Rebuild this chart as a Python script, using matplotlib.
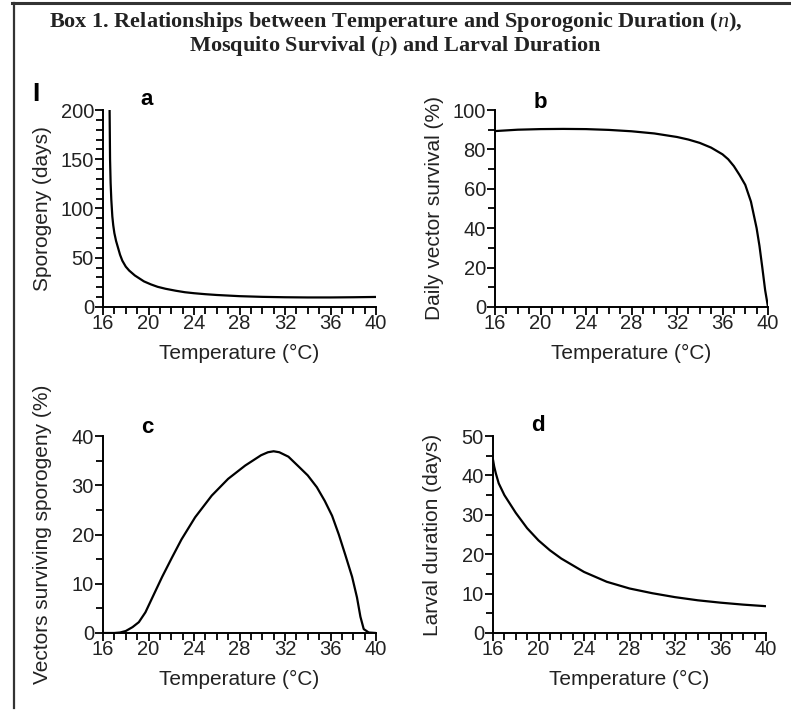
import numpy as np
import matplotlib.pyplot as plt
from matplotlib.lines import Line2D
from matplotlib.ticker import MultipleLocator

plt.rcParams['font.family'] = ['Liberation Sans', 'DejaVu Sans']
plt.rcParams['mathtext.fontset'] = 'custom'
plt.rcParams['mathtext.it'] = 'Liberation Serif:italic'

# --- values ---
# a: sporogonic duration (days)
temp_a = [16.58, 16.6, 16.62, 16.67, 16.73, 16.82, 16.9, 17.0, 17.15, 17.3, 17.5,
          17.7, 18.0, 18.3, 18.8, 19.2, 19.6, 20.2, 20.8, 21.5, 22.4, 23.2, 24.0,
          25.0, 26.0, 28.0, 30.0, 32.0, 34.0, 36.0, 38.0, 40.0]
sporogeny = [200, 175, 150, 126, 109, 92, 83, 75, 67, 61, 53,
             47, 41, 37, 32, 29, 26, 23, 20.5, 18.5, 16.5, 15, 14,
             13, 12.2, 11.0, 10.3, 9.9, 9.7, 9.7, 9.9, 10.2]

# b: daily vector survival (%)
temp_b = [16, 18, 20, 22, 24, 26, 28, 30, 32, 33, 34, 35, 36, 36.5, 37,
          37.5, 38, 38.5, 39, 39.25, 39.5, 39.75, 40]
survival = [89.3, 90.0, 90.3, 90.4, 90.3, 89.9, 89.2, 88.1, 86.3, 85.0, 83.3,
            80.9, 77.5, 75.0, 71.5, 67.0, 62.0, 53.5, 40.0, 31.0, 20.0, 8.5, 0.0]

# c: vectors surviving sporogeny (%)
temp_c = [16, 17, 17.5, 18, 18.6, 19.15, 19.73, 20.3, 21.2, 22.06, 22.9, 24.1,
          25.56, 27.0, 28.5, 29.9, 30.5, 31.0, 31.5, 32.3, 33.2, 34.0, 34.8,
          35.5, 36.14, 36.73, 37.31, 37.9, 38.33, 38.63, 38.92, 39.36, 40]
surv_sporo = [0, 0, 0.1, 0.4, 1.2, 2.2, 4.2, 7.0, 11.4, 15.3, 19.0, 23.5,
              27.9, 31.3, 34.0, 36.1, 36.7, 36.9, 36.7, 35.8, 33.8, 32.0, 29.6,
              26.8, 23.8, 20.0, 15.8, 11.4, 7.2, 3.3, 0.8, 0.1, 0]

# d: larval duration (days)
temp_d = [16, 16.1, 16.25, 16.5, 17, 18, 19, 20, 21, 22, 24, 26, 28, 30, 32,
          34, 36, 38, 40]
larval = [44, 42.3, 40.5, 38, 35, 30.5, 26.6, 23.5, 21, 18.9, 15.5, 13.0,
          11.3, 10.1, 9.1, 8.3, 7.7, 7.2, 6.8]

W, H = 791, 717
fig = plt.figure(figsize=(W / 100, H / 100), dpi=100)
text_col = '#222222'


def fx(px):
    return px / W


def fy(py):
    return 1 - py / H


# frame of the box
fig.add_artist(Line2D([fx(12), fx(791)], [fy(3), fy(3)], color='#333333', lw=2.2))
fig.add_artist(Line2D([fx(14), fx(14)], [fy(3), fy(708)], color='#333333', lw=1.6))

fig.text(0.5, fy(22), r'Box 1. Relationships between Temperature and Sporogonic Duration ($\mathit{n}$),',
         ha='center', va='center', fontsize=16, fontweight='bold',
         family='Liberation Serif', color=text_col)
fig.text(0.5, fy(46), r'Mosquito Survival ($\mathit{p}$) and Larval Duration',
         ha='center', va='center', fontsize=16, fontweight='bold',
         family='Liberation Serif', color=text_col)
fig.text(fx(36), fy(101), 'I', ha='center', va='baseline', fontsize=19,
         fontweight='bold', color='black')

panels = [
    # left px, top px, x, y, ylabel, ymax, major, minor, letter, letter pos
    (103, 110, temp_a, sporogeny, 'Sporogeny (days)', 200, 50, 10, 'a', (147, 105)),
    (495, 110, temp_b, survival, 'Daily vector survival (%)', 100, 20, 10, 'b', (540, 108)),
    (103, 436, temp_c, surv_sporo, 'Vectors surviving sporogeny (%)', 40, 10, 5, 'c', (147, 433)),
    (493, 436, temp_d, larval, 'Larval duration (days)', 50, 10, 5, 'd', (538, 431)),
]

for left, top, xs, ys, ylab, ymax, major, minor, letter, lpos in panels:
    ax = fig.add_axes([fx(left), fy(top + 197), 273 / W, 197 / H])
    ax.plot(xs, ys, color='black', lw=1.6, solid_capstyle='butt')
    ax.set_xlim(16, 40)
    ax.set_ylim(0, ymax)
    ax.xaxis.set_major_locator(MultipleLocator(4))
    ax.xaxis.set_minor_locator(MultipleLocator(1))
    ax.yaxis.set_major_locator(MultipleLocator(major))
    ax.yaxis.set_minor_locator(MultipleLocator(minor))
    for s in ['top', 'right']:
        ax.spines[s].set_visible(False)
    for s in ['left', 'bottom']:
        ax.spines[s].set_linewidth(1.4)
    ax.tick_params(which='both', direction='out', width=1.3, colors='black',
                   labelcolor=text_col, labelsize=14.5)
    ax.tick_params(which='major', length=6)
    ax.tick_params(which='minor', length=5)
    ax.tick_params(axis='x', pad=-1)
    ax.tick_params(axis='y', pad=0.5)
    ax.set_xlabel('Temperature (\u00b0C)', fontsize=15, color=text_col)
    ax.set_ylabel(ylab, fontsize=15, color=text_col)
    ax.xaxis.set_label_coords(0.5, -0.19)
    ax.yaxis.set_label_coords(-0.185, 0.5)
    ax.patch.set_alpha(0)
    fig.text(fx(lpos[0]), fy(lpos[1]), letter, ha='center', va='baseline',
             fontsize=16, fontweight='bold', color='black')

fig.savefig('out.png', dpi=100)
